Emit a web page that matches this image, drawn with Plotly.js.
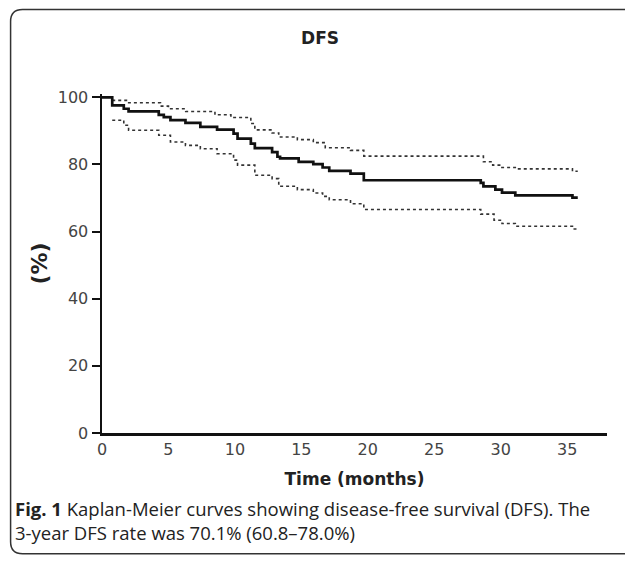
<!DOCTYPE html>
<html>
<head>
<meta charset="utf-8">
<script src="https://cdn.plot.ly/plotly-3.0.1.min.js"></script>
<style>
html,body{margin:0;padding:0;background:#fff;}
#chart{width:625px;height:565px;}
</style>
</head>
<body>
<div id="chart"></div>
<script>
// Kaplan-Meier DFS estimate (months, %)
var kmTime  = [0, 0.77, 1.64, 2.0, 4.27, 4.65, 5.15, 6.28, 7.4, 8.66, 9.9, 10.2, 11.2, 11.5, 12.8, 13.2, 13.4, 14.8, 15.9, 16.6, 17.1, 18.7, 19.7, 28.5, 28.7, 29.6, 30.1, 31.1, 35.4, 35.8];
var kmSurv  = [100, 97.6, 96.6, 95.8, 94.8, 94.1, 93.2, 92.4, 91.2, 90.4, 89.2, 87.7, 86.2, 84.9, 83.7, 82.3, 81.8, 80.8, 80.1, 79.1, 78.1, 77.3, 75.3, 74.5, 73.5, 72.5, 71.6, 70.8, 70.1, 70.1];
// Upper 95% confidence band
var upTime  = [0.77, 1.9, 4.4, 5.0, 6.3, 8.5, 9.7, 11.2, 11.5, 12.8, 13.3, 14.7, 15.9, 16.8, 18.7, 19.7, 28.7, 29.4, 30.0, 31.1, 35.4, 35.8];
var upSurv  = [99.1, 98.4, 97.4, 96.6, 95.8, 94.8, 94.0, 92.2, 90.3, 89.4, 88.2, 87.4, 86.5, 85.0, 84.2, 82.5, 80.8, 79.8, 79.1, 78.7, 78.0, 78.0];
// Lower 95% confidence band
var loTime  = [0.77, 1.64, 2.0, 4.27, 5.15, 6.28, 7.4, 8.66, 9.9, 10.2, 11.5, 12.8, 13.3, 14.7, 15.9, 16.6, 17.1, 18.7, 19.7, 28.5, 29.5, 30.1, 31.1, 35.4, 35.8];
var loSurv  = [93.2, 91.7, 90.2, 88.7, 86.7, 85.7, 84.7, 83.2, 81.3, 79.8, 76.8, 75.8, 73.5, 72.5, 71.5, 70.5, 69.5, 68.3, 66.6, 65.2, 63.4, 62.4, 61.6, 60.8, 60.8];
var xTicks = [0, 5, 10, 15, 20, 25, 30, 35];
var yTicks = [0, 20, 40, 60, 80, 100];

// pixel -> paper helpers for decorations
var L = 101.5, R = 18, T = 93.6, B = 132, W = 625, H = 565;
var pw = W - L - R, ph = H - T - B;
function px(x){ return (x - L) / pw; }
function py(y){ return (H - B - y) / ph; }

var traces = [
  {x: upTime, y: upSurv, mode: 'lines', line: {shape: 'hv', color: '#333', width: 1.6, dash: 'dot'}, hoverinfo: 'skip'},
  {x: loTime, y: loSurv, mode: 'lines', line: {shape: 'hv', color: '#333', width: 1.6, dash: 'dot'}, hoverinfo: 'skip'},
  {x: kmTime, y: kmSurv, mode: 'lines', line: {shape: 'hv', color: '#111', width: 2.7}, hoverinfo: 'skip'}
];

var bx0 = px(10), bx1 = px(660), by0 = py(9), by1 = py(554);
var rx = 12 / pw, ry = 12 / ph;
var boxPath = 'M ' + bx1 + ',' + by0 + ' L ' + (bx0 + rx) + ',' + by0 +
  ' Q ' + bx0 + ',' + by0 + ' ' + bx0 + ',' + (by0 - ry) +
  ' L ' + bx0 + ',' + (by1 + ry) +
  ' Q ' + bx0 + ',' + by1 + ' ' + (bx0 + rx) + ',' + by1 +
  ' L ' + bx1 + ',' + by1;

var layout = {
  width: W, height: H,
  margin: {l: L, r: R, t: T, b: B},
  paper_bgcolor: '#fff', plot_bgcolor: '#fff',
  showlegend: false,
  title: {text: '<b>DFS</b>', x: 320 / W, xref: 'container', xanchor: 'center', y: 1 - 38 / H, yref: 'container', yanchor: 'middle',
          font: {family: 'DejaVu Sans', size: 17, color: '#222'}},
  xaxis: {
    range: [0, 38], tickvals: xTicks, ticktext: xTicks.map(String), ticks: '',
    showgrid: false, zeroline: false, showline: true, linecolor: '#111', linewidth: 2.5,
    tickfont: {family: 'DejaVu Sans', size: 16, color: '#444'},
    title: {text: '<b>Time (months)</b>', font: {family: 'DejaVu Sans', size: 17, color: '#222'}, standoff: 16}
  },
  yaxis: {
    range: [0, 101], tickvals: yTicks, ticktext: yTicks.map(String), ticks: 'outside', ticklen: 8, tickwidth: 2, tickcolor: '#111',
    showgrid: false, zeroline: false, showline: true, linecolor: '#111', linewidth: 2.5,
    tickfont: {family: 'DejaVu Sans', size: 16, color: '#444'},
    title: {text: '<b>(%)</b>', font: {family: 'DejaVu Sans', size: 22, color: '#222'}, standoff: 4}
  },
  shapes: [
    {type: 'path', xref: 'paper', yref: 'paper', path: boxPath, line: {color: '#333', width: 1.5}, fillcolor: 'rgba(0,0,0,0)'}
  ],
  annotations: [
    {xref: 'paper', yref: 'paper', x: px(12), y: py(521), xanchor: 'left', yanchor: 'middle', align: 'left', showarrow: false,
     text: '<b>Fig. 1</b> Kaplan-Meier curves showing disease-free survival (DFS). The<br>3-year DFS rate was 70.1% (60.8–78.0%)',
     font: {family: 'Open Sans', size: 18.5, color: '#222'}}
  ]
};

Plotly.newPlot('chart', traces, layout, {displayModeBar: false, staticPlot: true});
</script>
</body>
</html>
